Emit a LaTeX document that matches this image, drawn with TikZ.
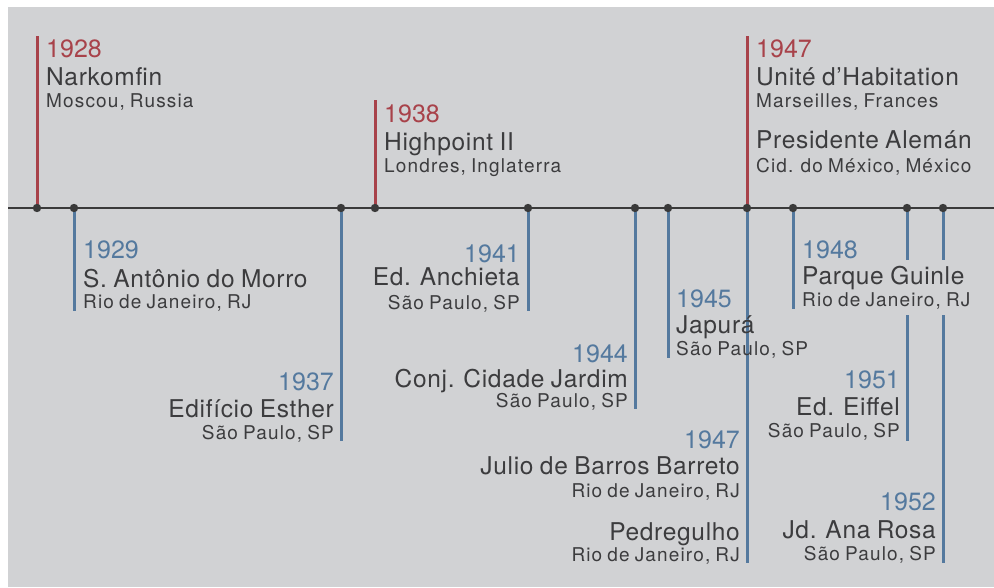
\documentclass[tikz,border=0pt]{standalone}
\usepackage{fontspec}
\setmainfont{TeX Gyre Heros}
\newfontfamily\subfont{TeX Gyre Heros}[LetterSpace=6,WordSpace=0.8]
\newfontfamily\ttlfont{TeX Gyre Heros}[LetterSpace=2.8,WordSpace=0.85]
\definecolor{bgc}{RGB}{209,210,212}
\definecolor{redc}{RGB}{168,66,74}
\definecolor{bluec}{RGB}{84,121,158}
\definecolor{txtc}{RGB}{60,60,62}
\definecolor{axc}{RGB}{58,58,58}
\begin{document}
\begin{tikzpicture}[x=1pt,y=-1pt,
  yr/.style={inner sep=0pt,font=\fontsize{25}{30}\selectfont},
  yred/.style={yr,text=redc},
  yblue/.style={yr,text=bluec},
  ttl/.style={inner sep=0pt,text=txtc,font=\ttlfont\fontsize{24.5}{29}\selectfont},
  sub/.style={inner sep=0pt,text=txtc,font=\subfont\fontsize{19}{22}\selectfont},
  L/.style={anchor=base west},
  R/.style={anchor=base east},
  redstem/.style={draw=redc,line width=3pt},
  bluestem/.style={draw=bluec,line width=3pt},
  axisline/.style={draw=axc,line width=2.6pt},
  dot/.style={fill=axc}]
\useasboundingbox (0,0) rectangle (994,587);
\fill[white] (0,0) rectangle (994,587);
\fill[bgc] (8,7) rectangle (994,587);

% axis points
\coordinate (axL) at (8,208);
\coordinate (axR) at (994,208);
\coordinate (d1928) at (37,208);
\coordinate (d1929) at (74,208);
\coordinate (d1937) at (341,208);
\coordinate (d1938) at (375,208);
\coordinate (d1941) at (528,208);
\coordinate (d1944) at (635,208);
\coordinate (d1945) at (668,208);
\coordinate (d1947) at (747,208);
\coordinate (d1948) at (793,208);
\coordinate (d1951) at (907,208);
\coordinate (d1952) at (943,208);

% stem ends
\coordinate (e1928) at (37,36);
\coordinate (e1929) at (74,311);
\coordinate (e1937) at (341,441);
\coordinate (e1938) at (375,100);
\coordinate (e1941) at (528,311);
\coordinate (e1944) at (635,409);
\coordinate (e1945) at (668,358);
\coordinate (e1947r) at (747,36);
\coordinate (e1947b) at (747,563);
\coordinate (e1948) at (793,309);
\coordinate (g1951a) at (907,260);
\coordinate (g1951b) at (907,315);
\coordinate (e1951) at (907,441);
\coordinate (g1952a) at (943,260);
\coordinate (g1952b) at (943,315);
\coordinate (e1952) at (943,563);

% stems
\draw[redstem] (d1928) -- (e1928);
\draw[redstem] (d1938) -- (e1938);
\draw[redstem] (d1947) -- (e1947r);
\draw[bluestem] (d1929) -- (e1929);
\draw[bluestem] (d1937) -- (e1937);
\draw[bluestem] (d1941) -- (e1941);
\draw[bluestem] (d1944) -- (e1944);
\draw[bluestem] (d1945) -- (e1945);
\draw[bluestem] (d1947) -- (e1947b);
\draw[bluestem] (d1948) -- (e1948);
\draw[bluestem] (d1951) -- (g1951a) (g1951b) -- (e1951);
\draw[bluestem] (d1952) -- (g1952a) (g1952b) -- (e1952);

% axis
\draw[axisline] (axL) -- (axR);
\foreach \d in {1928,1929,1937,1938,1941,1944,1945,1947,1948,1951,1952}
  \fill[dot] (d\d) circle[radius=4.2pt];

% top red labels
\node[yred,L] (y1928) at (46,57) {1928};
\node[ttl,L] (t1928) at (46,85) {Narkomfin};
\node[sub,L] (s1928) at (46,107) {Moscou, Russia};

\node[yred,L] (y1938) at (384,122) {1938};
\node[ttl,L] (t1938) at (384,150) {Highpoint II};
\node[sub,L] (s1938) at (384,172) {Londres, Inglaterra};

\node[yred,L] (y1947r) at (756,57) {1947};
\node[ttl,L] (t1947a) at (756,85) {Unité d’Habitation};
\node[sub,L] (s1947a) at (756,107) {Marseilles, Frances};
\node[ttl,L] (t1947b) at (756,148) {Presidente Alemán};
\node[sub,L] (s1947b) at (756,172) {Cid. do México, México};

% bottom blue labels, left aligned
\node[yblue,L] (y1929) at (83,258) {1929};
\node[ttl,L] (t1929) at (83,287) {S. Antônio do Morro};
\node[sub,L] (s1929) at (83,308) {Rio de Janeiro, RJ};

\node[yblue,L] (y1948) at (802,258) {1948};
\node[ttl,L] (t1948) at (802,284) {Parque Guinle};
\node[sub,L] (s1948) at (802,306) {Rio de Janeiro, RJ};

\node[yblue,L] (y1945) at (676,307) {1945};
\node[ttl,L] (t1945) at (676,333) {Japurá};
\node[sub,L] (s1945) at (676,355) {São Paulo, SP};

% bottom blue labels, right aligned
\node[yblue,R] (y1937) at (334,390) {1937};
\node[ttl,R] (t1937) at (334,417) {Edifício Esther};
\node[sub,R] (s1937) at (334,439) {São Paulo, SP};

\node[yblue,R] (y1941) at (520,262) {1941};
\node[ttl,R] (t1941) at (520,285) {Ed. Anchieta};
\node[sub,R] (s1941) at (520,309) {São Paulo, SP};

\node[yblue,R] (y1944) at (628,362) {1944};
\node[ttl,R] (t1944) at (628,387) {Conj. Cidade Jardim};
\node[sub,R] (s1944) at (628,407) {São Paulo, SP};

\node[yblue,R] (y1947b) at (740,448) {1947};
\node[ttl,R] (t1947c) at (740,474) {Julio de Barros Barreto};
\node[sub,R] (s1947c) at (740,497) {Rio de Janeiro, RJ};
\node[ttl,R] (t1947d) at (740,540) {Pedregulho};
\node[sub,R] (s1947d) at (740,561) {Rio de Janeiro, RJ};

\node[yblue,R] (y1951) at (900,388) {1951};
\node[ttl,R] (t1951) at (900,415) {Ed. Eiffel};
\node[sub,R] (s1951) at (900,437) {São Paulo, SP};

\node[yblue,R] (y1952) at (936,510) {1952};
\node[ttl,R] (t1952) at (936,538) {Jd. Ana Rosa};
\node[sub,R] (s1952) at (936,560) {São Paulo, SP};
\end{tikzpicture}
\end{document}
